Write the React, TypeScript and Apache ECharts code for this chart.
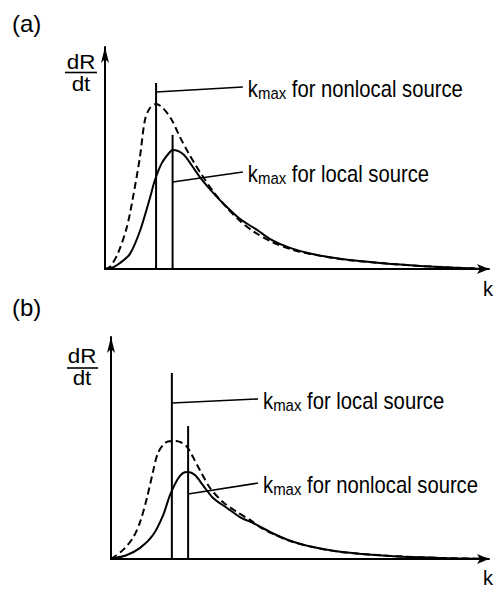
import React, { useEffect, useRef } from "react";
import * as echarts from "echarts";

// ---------- axis ranges (arbitrary units, axes carry no scale) ----------
const K_MAX = 10;
const RATE_MAX = 10;

// ---------- panel (a) ----------
const curveA_nonlocal: number[][] = [
  [0, 0], [0.13, 0.09], [0.34, 0.72], [0.57, 1.89], [0.73, 3.24], [0.91, 5.05],
  [1.04, 6.71], [1.17, 7.25], [1.33, 7.43], [1.51, 7.25], [1.74, 6.71], [1.95, 5.95],
  [2.16, 5.27], [2.34, 4.73], [2.47, 4.37], [2.81, 3.51], [3.18, 2.75], [3.52, 2.16],
  [3.85, 1.71], [4.3, 1.26], [4.82, 0.9], [5.34, 0.68], [6.12, 0.45], [7.16, 0.27],
  [8.2, 0.14], [8.98, 0.07], [9.64, 0.02], [10, 0],
];
const curveA_local: number[][] = [
  [0, 0], [0.18, 0.05], [0.39, 0.27], [0.65, 0.68], [0.91, 1.71], [1.17, 3.2],
  [1.3, 4.01], [1.48, 4.77], [1.69, 5.27], [1.77, 5.36], [2.03, 5.18], [2.27, 4.64],
  [2.47, 4.14], [2.73, 3.6], [3.07, 2.97], [3.52, 2.25], [3.96, 1.76], [4.3, 1.35],
  [4.82, 0.95], [5.34, 0.7], [6.12, 0.46], [7.16, 0.27], [8.2, 0.14], [8.98, 0.07],
  [9.64, 0.02], [10, 0],
];
const kmaxA = [1.33, 1.76];          // nonlocal, local
const kmaxTopA = [8.38, 6.04];
const leaderFromA = [7.97, 3.92];
const leaderToKA = 3.59;
const leaderToA = [8.2, 4.37];
const labelsA = ["nonlocal", "local"];

// ---------- panel (b) ----------
const curveB_dashed: number[][] = [
  [0, 0], [0.05, 0.05], [0.32, 0.41], [0.58, 0.95], [0.77, 1.67], [0.95, 2.75],
  [1.11, 3.92], [1.24, 4.77], [1.43, 5.23], [1.61, 5.32], [1.83, 5.27], [2.01, 5.05],
  [2.17, 4.59], [2.35, 4.01], [2.62, 3.2], [2.96, 2.57], [3.33, 2.12], [3.68, 1.76],
  [3.94, 1.44], [4.29, 1.13], [4.74, 0.81], [5.19, 0.59], [6.06, 0.32], [7.38, 0.14],
  [8.7, 0.05], [9.76, 0.01], [10, 0],
];
const curveB_solid: number[][] = [
  [0, 0], [0.42, 0.18], [0.77, 0.5], [1.11, 1.08], [1.38, 1.98], [1.56, 2.88],
  [1.75, 3.56], [1.9, 3.87], [2.04, 3.92], [2.22, 3.78], [2.43, 3.33], [2.7, 2.75],
  [3.07, 2.3], [3.41, 1.89], [3.76, 1.62], [3.94, 1.46], [4.29, 1.15], [4.74, 0.82],
  [5.19, 0.6], [6.06, 0.33], [7.38, 0.14], [8.7, 0.05], [9.76, 0.01], [10, 0],
];
const kmaxB = [1.61, 2.04];          // local, nonlocal
const kmaxTopB = [8.38, 5.99];
const leaderFromB = [7.03, 2.93];
const leaderToKB = 3.89;
const leaderToB = [7.21, 3.42];
const labelsB = ["local", "nonlocal"];

const panelLabels = ["(a)", "(b)"];
const rateLabel = ["dR", "dt"];
const kLabel = "k";

// ---------- styling ----------
const INK = "#000";
const FONT = '"Liberation Sans", Arial, Helvetica, sans-serif';

const grids = [
  { left: 105, top: 47, width: 384, height: 222 },
  { left: 111, top: 337, width: 378, height: 222 },
];

function axis(gi: number, max: number, arrow: number[]) {
  return {
    type: "value",
    gridIndex: gi,
    min: 0,
    max,
    axisLine: {
      show: true,
      onZero: false,
      symbol: ["none", "arrow"],
      symbolSize: arrow,
      lineStyle: { color: INK, width: 2 },
    },
    axisTick: { show: false },
    axisLabel: { show: false },
    splitLine: { show: false },
  };
}

function panelSeries(
  gi: number,
  dashed: number[][],
  solid: number[][],
  kmax: number[],
  tops: number[],
  from: number[],
  toK: number,
  to: number[]
) {
  const base = {
    type: "line",
    xAxisIndex: gi,
    yAxisIndex: gi,
    symbol: "none",
    silent: true,
  };
  return [
    { ...base, data: dashed, smooth: 0.3, lineStyle: { color: INK, width: 2, type: [7, 4] } },
    { ...base, data: solid, smooth: 0.3, lineStyle: { color: INK, width: 2 } },
    ...kmax.map((k, i) => ({
      ...base,
      data: [[k, 0], [k, tops[i]]],
      lineStyle: { color: INK, width: 2 },
    })),
    ...kmax.map((k, i) => ({
      ...base,
      data: [[k, from[i]], [toK, to[i]]],
      lineStyle: { color: INK, width: 1.6 },
    })),
  ];
}

function plainText(id: string, x: number, y: number, text: string, size: number, align = "left", scaleX = 1) {
  return {
    id,
    type: "text",
    x,
    y,
    scaleX,
    style: {
      text,
      fill: INK,
      font: `${size}px ${FONT}`,
      fontSize: size,
      fontFamily: FONT,
      align,
      textAlign: align,
      verticalAlign: "middle",
      textVerticalAlign: "middle",
    },
  };
}

function kmaxText(id: string, x: number, y: number, which: string) {
  const main = { fontSize: 23, fontFamily: FONT, fill: INK, color: INK, lineHeight: 26 };
  return {
    id,
    type: "text",
    x,
    y,
    scaleX: 0.88,
    style: {
      text: `{k|k}{s|max}{t| for ${which} source}`,
      align: "left",
      textAlign: "left",
      verticalAlign: "middle",
      textVerticalAlign: "middle",
      rich: {
        k: main,
        s: { fontSize: 17, fontFamily: FONT, fill: INK, color: INK, lineHeight: 16, verticalAlign: "bottom" },
        t: main,
      },
    },
  };
}

const staticGraphics = [
  plainText("pa", 12, 23, panelLabels[0], 24),
  plainText("pb", 12, 307, panelLabels[1], 24),
  plainText("ka", 488, 289, kLabel, 20, "center"),
  plainText("kb", 488, 578, kLabel, 20, "center"),
  plainText("dRa", 81, 62, rateLabel[0], 20, "center", 1.12),
  plainText("dta", 81, 84, rateLabel[1], 20, "center", 1.12),
  plainText("dRb", 82, 356, rateLabel[0], 20, "center", 1.12),
  plainText("dtb", 82, 378, rateLabel[1], 20, "center", 1.12),
  { id: "fa", type: "line", shape: { x1: 65, y1: 72.5, x2: 97, y2: 72.5 }, style: { stroke: INK, lineWidth: 1.6 } },
  { id: "fb", type: "line", shape: { x1: 67, y1: 368, x2: 98, y2: 368 }, style: { stroke: INK, lineWidth: 1.6 } },
];

export default function App() {
  const ref = useRef<HTMLDivElement>(null);
  useEffect(() => {
    if (!ref.current) return;
    const chart = echarts.init(ref.current, null, { renderer: "svg" });
    chart.setOption({
      animation: false,
      backgroundColor: "#ffffff",
      grid: grids,
      xAxis: [axis(0, K_MAX, [7.5, 12]), axis(1, K_MAX, [7.5, 12])],
      yAxis: [axis(0, RATE_MAX, [6, 16]), axis(1, RATE_MAX, [6, 16])],
      series: [
        ...panelSeries(0, curveA_nonlocal, curveA_local, kmaxA, kmaxTopA, leaderFromA, leaderToKA, leaderToA),
        ...panelSeries(1, curveB_dashed, curveB_solid, kmaxB, kmaxTopB, leaderFromB, leaderToKB, leaderToB),
      ],
      graphic: { elements: staticGraphics },
    });
    const notes: any[] = [];
    labelsA.forEach((w, i) => {
      const p = chart.convertToPixel({ gridIndex: 0 } as any, [leaderToKA, leaderToA[i]]) as number[];
      notes.push(kmaxText(`na${i}`, p[0] + 5, p[1] + 2, w));
    });
    labelsB.forEach((w, i) => {
      const p = chart.convertToPixel({ gridIndex: 1 } as any, [leaderToKB, leaderToB[i]]) as number[];
      notes.push(kmaxText(`nb${i}`, p[0] + 5, p[1] + 2, w));
    });
    chart.setOption({ graphic: { elements: [...staticGraphics, ...notes] } });
    return () => chart.dispose();
  }, []);
  return (
    <div
      ref={ref}
      style={{ position: "fixed", left: 0, top: 0, width: 496, height: 589 }}
    />
  );
}
